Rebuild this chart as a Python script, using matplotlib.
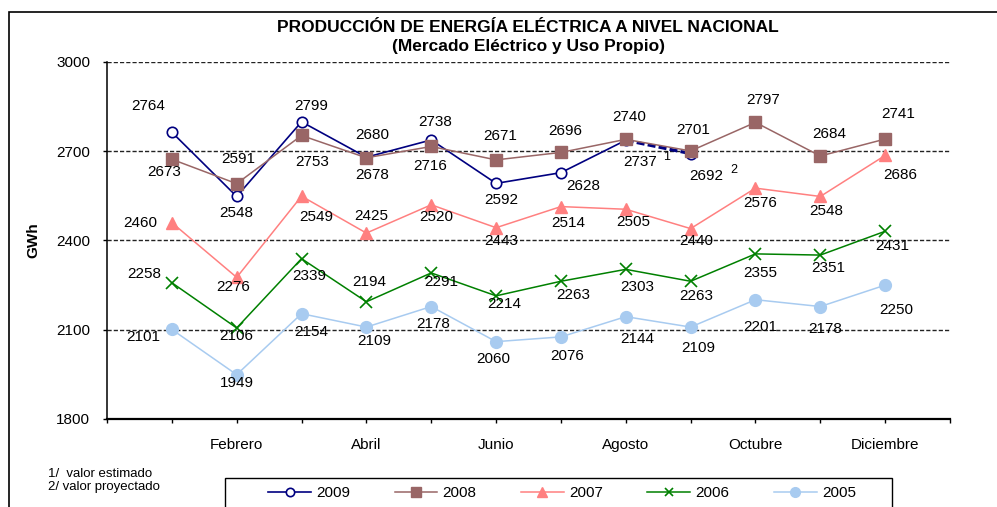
import numpy as np
import matplotlib
matplotlib.use("Agg")
import matplotlib.pyplot as plt
from matplotlib.patches import Rectangle

plt.rcParams['font.family'] = ['Liberation Sans', 'DejaVu Sans']

# Data
meses = ['Enero', 'Febrero', 'Marzo', 'Abril', 'Mayo', 'Junio', 'Julio',
         'Agosto', 'Septiembre', 'Octubre', 'Noviembre', 'Diciembre']
v2009 = [2764, 2548, 2799, 2680, 2738, 2592, 2628, 2737, 2692]
v2008 = [2673, 2591, 2753, 2678, 2716, 2671, 2696, 2740, 2701, 2797, 2684, 2741]
v2007 = [2460, 2276, 2549, 2425, 2520, 2443, 2514, 2505, 2440, 2576, 2548, 2686]
v2006 = [2258, 2106, 2339, 2194, 2291, 2214, 2263, 2303, 2263, 2355, 2351, 2431]
v2005 = [2101, 1949, 2154, 2109, 2178, 2060, 2076, 2144, 2109, 2201, 2178, 2250]
yticks = [1800, 2100, 2400, 2700, 3000]

# label offsets in pixels (dx right, dy down)
off2009 = [(-24, -26), (0, 17), (10, -16), (6, -22), (4, -18), (5, 17), (22, 13), (14, 22), (16, 22)]
off2008 = [(-8, 13), (2, -25), (11, 27), (6, 17), (-1, 20), (4, -24), (4, -21), (3, -22), (3, -21), (8, -22), (9, -22), (13, -25)]
off2007 = [(-32, 0), (-4, 10), (15, 21), (5, -17), (5, 12), (5, 13), (7, 16), (7, 13), (6, 12), (5, 15), (6, 15), (15, 20)]
off2006 = [(-28, -9), (0, 8), (8, 17), (3, -20), (10, 9), (8, 8), (12, 14), (11, 18), (6, 15), (5, 19), (8, 13), (7, 15)]
off2005 = [(-29, 8), (0, 8), (10, 18), (8, 14), (2, 17), (-3, 17), (6, 19), (11, 22), (8, 21), (5, 27), (5, 22), (11, 25)]

W, H = 997, 507
fig = plt.figure(figsize=(W / 100, H / 100), dpi=100)
ax = fig.add_axes([107 / W, 1 - 419 / H, (950 - 107) / W, (419 - 62) / H])

x = np.arange(1, 13)
fs = 11

# 2009 (solid up to August, dashed projection to September)
ax.plot(x[:8], v2009[:8], '-', color='#000080', lw=1.2, zorder=3)
ax.plot(x[7:9], v2009[7:9], '--', color='#000080', lw=2.3, dashes=(2.5, 1), zorder=3)
ax.plot(x[:9], v2009, 'o', color='#000080', mfc='white', ms=7.5, mew=1.2, zorder=4)
ax.plot(x, v2008, '-s', color='#996666', lw=1.1, ms=8, zorder=5)
ax.plot(x, v2007, '-^', color='#FF8080', lw=1.1, ms=8, zorder=6)
ax.plot(x, v2006, '-x', color='#008000', lw=1.1, ms=8, mew=1.2, zorder=7)
ax.plot(x, v2005, '-o', color='#A8CBF0', lw=1.1, ms=8.5, zorder=8)

# data labels
for vals, offs in [(v2009, off2009), (v2008, off2008), (v2007, off2007),
                   (v2006, off2006), (v2005, off2005)]:
    for i, (v, (dx, dy)) in enumerate(zip(vals, offs)):
        ax.annotate(str(v), (x[i], v), xytext=(dx, -dy), textcoords='offset pixels',
                    ha='center', va='center', fontsize=fs, color='black', zorder=10)

# footnote marks
ax.annotate('1', (x[7], v2009[7]), xytext=(41, -17), textcoords='offset pixels',
            ha='center', va='center', fontsize=9)
ax.annotate('2', (x[8], v2009[8]), xytext=(43, -16), textcoords='offset pixels',
            ha='center', va='center', fontsize=9)

# axes
ax.set_xlim(0, 13)
ax.set_ylim(1800, 3000)
ax.set_yticks(yticks)
ax.set_yticklabels([str(t) for t in yticks], fontsize=fs)
ax.set_xticks(np.arange(0, 14))
xlabels = [''] + [m if (i + 1) % 2 == 0 else '' for i, m in enumerate(meses)] + ['']
ax.set_xticklabels(xlabels, fontsize=fs)
ax.tick_params(axis='y', length=3, width=1, pad=9)
ax.tick_params(axis='x', length=3, width=1, pad=11)
ax.yaxis.grid(True, color='#222222', lw=1, linestyle=(0, (3, 1.5)))
ax.set_axisbelow(True)
for s in ['top', 'right']:
    ax.spines[s].set_visible(False)
ax.spines['left'].set_linewidth(1.1)
ax.spines['bottom'].set_linewidth(1.6)

fig.text(33 / W, 1 - 240 / H, 'GWh', rotation=90, ha='center', va='center',
         fontsize=11, fontweight='bold')

# titles
fig.text(528 / W, 1 - 28 / H, 'PRODUCCIÓN DE ENERGÍA ELÉCTRICA A NIVEL NACIONAL',
         ha='center', va='center', fontsize=12.5, fontweight='bold')
fig.text(528 / W, 1 - 46 / H, '(Mercado Eléctrico y Uso Propio)',
         ha='center', va='center', fontsize=12.5, fontweight='bold')

# footnotes
fig.text(48 / W, 1 - 474 / H, '1/  valor estimado', ha='left', va='center', fontsize=9.5)
fig.text(48 / W, 1 - 487 / H, '2/ valor proyectado', ha='left', va='center', fontsize=9.5)

# legend
h = [plt.Line2D([], [], color='#000080', lw=1.2, marker='o', mfc='white', ms=6, mew=1.2),
     plt.Line2D([], [], color='#996666', lw=1.1, marker='s', ms=7),
     plt.Line2D([], [], color='#FF8080', lw=1.1, marker='^', ms=7),
     plt.Line2D([], [], color='#008000', lw=1.1, marker='x', ms=6, mew=1.2),
     plt.Line2D([], [], color='#A8CBF0', lw=1.1, marker='o', ms=7)]
fig.legend(h, ['2009', '2008', '2007', '2006', '2005'], loc='center',
           bbox_to_anchor=(562 / W, 1 - 493 / H), ncol=5, frameon=False, fontsize=fs,
           handlelength=2.8, handletextpad=0.35, columnspacing=2.9)
fig.patches.append(Rectangle((225 / W, -0.1), (892 - 225) / W, 0.1 + (507 - 478) / H,
                             transform=fig.transFigure, fill=False, lw=1, ec='black'))

# outer frame
fig.patches.append(Rectangle((9 / W, -0.5), 1.5, 0.5 + (507 - 12) / H,
                             transform=fig.transFigure, fill=False, lw=1.2, ec='black'))

fig.savefig('out.png', dpi=100)
